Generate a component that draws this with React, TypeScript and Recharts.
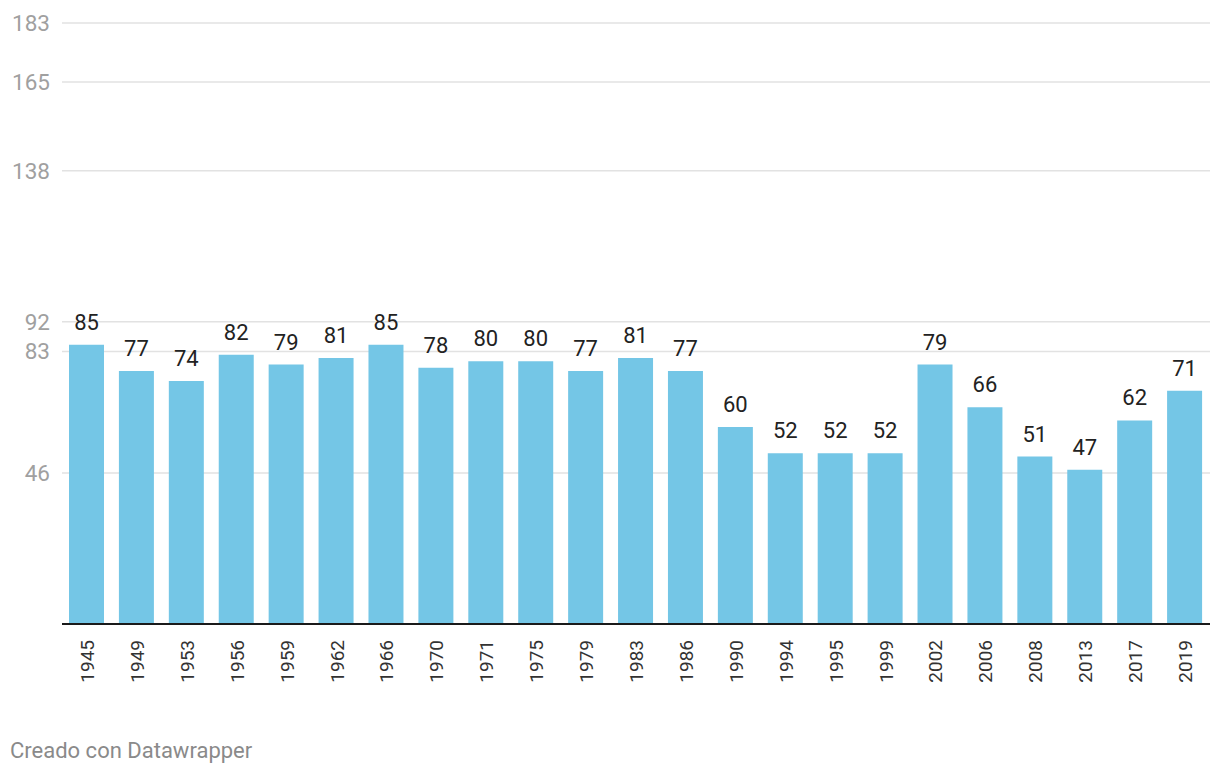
import { Bar, BarChart, CartesianGrid, LabelList, XAxis, YAxis } from 'recharts'

const years = [
  '1945', '1949', '1953', '1956', '1959', '1962', '1966', '1970', '1971', '1975', '1979', '1983',
  '1986', '1990', '1994', '1995', '1999', '2002', '2006', '2008', '2013', '2017', '2019',
]
const values = [85, 77, 74, 82, 79, 81, 85, 78, 80, 80, 77, 81, 77, 60, 52, 52, 52, 79, 66, 51, 47, 62, 71]
const yTicks = [46, 83, 92, 138, 165, 183]

const data = years.map((year, i) => ({ year, value: values[i] }))

const FONT = 'Roboto, "Noto Sans", sans-serif'

function YTick({ y, payload }: any) {
  return (
    <text x={50} y={y + 8} textAnchor="end" fill="#a0a0a0" fontSize={22.5} fontFamily={FONT}>
      {payload.value}
    </text>
  )
}

function XTick({ x, y, payload }: any) {
  return (
    <g transform={`translate(${x},${y})`}>
      <text
        transform="rotate(-90)"
        x={-8}
        y={7}
        textAnchor="end"
        fill="#333"
        fontSize={19}
        fontFamily={FONT}
      >
        {payload.value}
      </text>
    </g>
  )
}

export default function App() {
  return (
    <div style={{ position: 'absolute', left: 0, top: 0, width: 1220, height: 774, background: '#fff' }}>
      <BarChart
        width={1220}
        height={700}
        data={data}
        margin={{ top: 23, right: 10, bottom: 0, left: 0 }}
        barSize={35}
      >
        <CartesianGrid horizontal vertical={false} stroke="#e2e2e2" strokeWidth={1.5} />
        <YAxis
          width={62}
          domain={[0, 183]}
          ticks={yTicks}
          axisLine={false}
          tickLine={false}
          tick={<YTick />}
          interval={0}
        />
        <XAxis
          dataKey="year"
          height={76}
          interval={0}
          tickLine={false}
          axisLine={{ stroke: '#1a1a1a', strokeWidth: 2 }}
          tick={<XTick />}
        />
        <Bar dataKey="value" fill="#74c6e6" isAnimationActive={false}>
          <LabelList
            dataKey="value"
            position="top"
            offset={15}
            fill="#222"
            fontSize={22}
            fontFamily={FONT}
          />
        </Bar>
      </BarChart>
      <div
        style={{
          position: 'absolute',
          left: 10,
          top: 738,
          fontFamily: FONT,
          fontSize: 22,
          color: '#8a8a8a',
        }}
      >
        Creado con Datawrapper
      </div>
    </div>
  )
}
